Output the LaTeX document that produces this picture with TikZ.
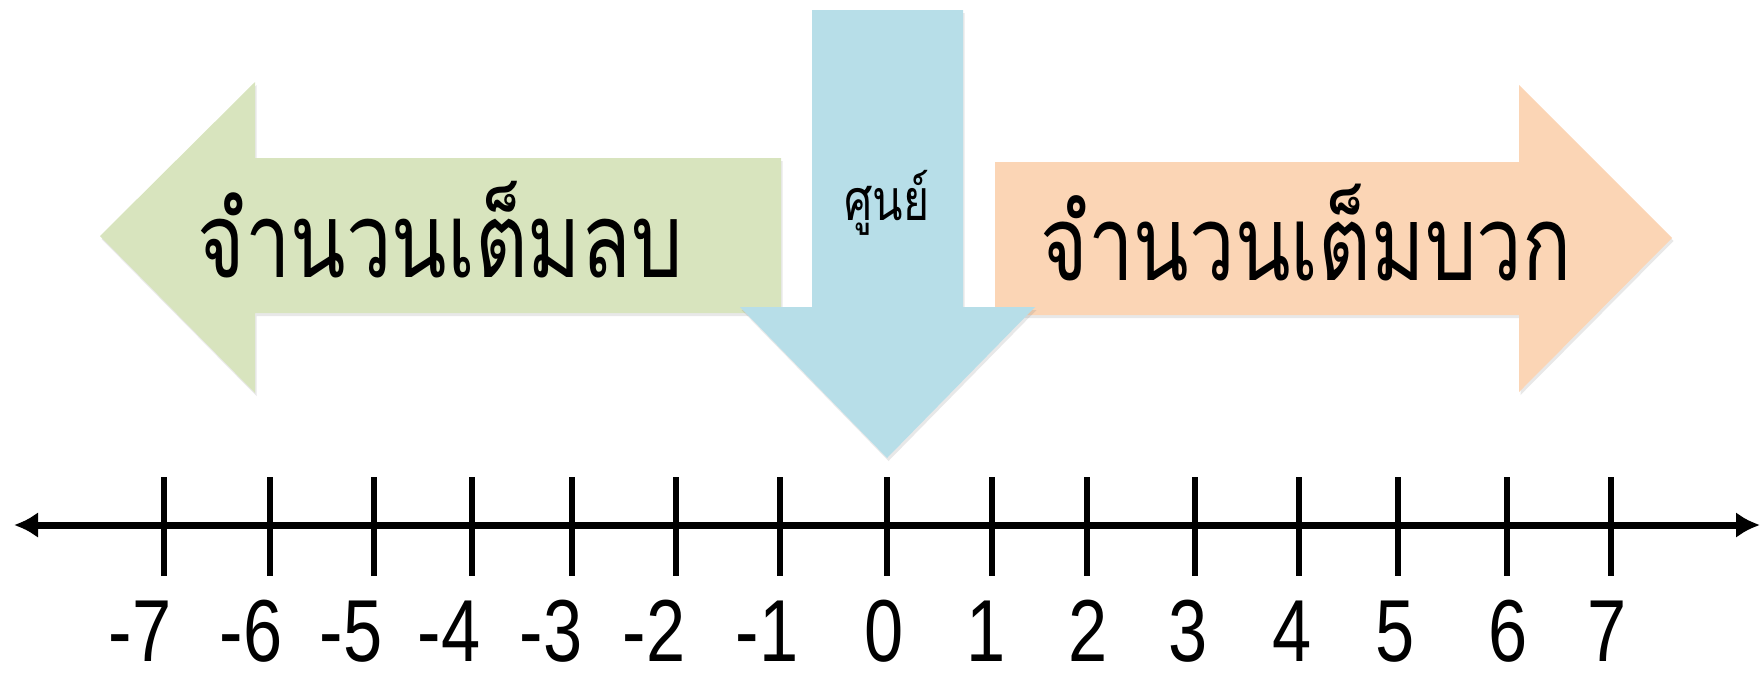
\documentclass[tikz,border=0pt]{standalone}
\usepackage{graphicx}
\usepackage{fontspec}
\setmainfont{Liberation Sans}
\newfontfamily\thaifont[Script=Thai,FakeStretch=0.78]{Loma}
\newfontfamily\numfont[FakeStretch=0.8]{Liberation Sans}
\usetikzlibrary{arrows.meta,shadows}
\definecolor{greenA}{RGB}{216,228,190}
\definecolor{blueA}{RGB}{183,222,232}
\definecolor{orangeA}{RGB}{251,213,181}
\begin{document}
\begin{tikzpicture}[x=1pt,y=-1pt,
  bigarrow/.style={fill=#1, draw=none,
    drop shadow={opacity=0.18, shadow xshift=1.5pt, shadow yshift=-3pt}},
  tickmark/.style={line width=6pt, black},
  numlabel/.style={anchor=base, inner sep=0pt, font=\numfont\fontsize{88}{88}\selectfont},
  bigtext/.style={anchor=base, inner sep=0pt, font=\thaifont\fontsize{80}{80}\selectfont},
]
\useasboundingbox (0,0) rectangle (1760,673);

% green arrow (negative)
\path[bigarrow=greenA] (781,158) -- (255,158) -- (255,82) -- (100,236) -- (255,393) -- (255,313) -- (781,313) -- cycle;
% orange arrow (positive)
\path[bigarrow=orangeA] (995,162) -- (1519,162) -- (1519,85) -- (1672,238) -- (1519,392) -- (1519,315) -- (995,315) -- cycle;
% blue arrow (zero)
\path[bigarrow=blueA] (812,10) -- (963,10) -- (963,307) -- (1035,307) -- (887,458) -- (740,307) -- (812,307) -- cycle;

\node[bigtext] (neg) at (440,277) {\resizebox{485pt}{!}{จำนวนเต็มลบ}};
\node[bigtext] (pos) at (1306,280) {\resizebox{531pt}{!}{จำนวนเต็มบวก}};
\node[bigtext] (zero) at (887,220) {\resizebox{85pt}{!}{ศูนย์}};

% number line
\coordinate (L) at (14,525);
\coordinate (R) at (1760,525);
\draw[line width=7pt, {Latex[length=24pt,width=26pt]}-{Latex[length=24pt,width=26pt]}] (L) -- (R);

\foreach \v/\tx/\lx in {-7/164/140,-6/270/251,-5/374/351,-4/472/449,-3/572/551,-2/676/654,-1/780/767,0/887/884,1/992/986,2/1087/1088,3/1195/1188,4/1299/1292,5/1398/1395,6/1507/1508,7/1611/1607}{
  \coordinate (ta\v) at (\tx,477);
  \coordinate (tb\v) at (\tx,576);
  \draw[tickmark] (ta\v) -- (tb\v);
  \node[numlabel] (n\v) at (\lx,661) {\v};
}
\end{tikzpicture}
\end{document}
